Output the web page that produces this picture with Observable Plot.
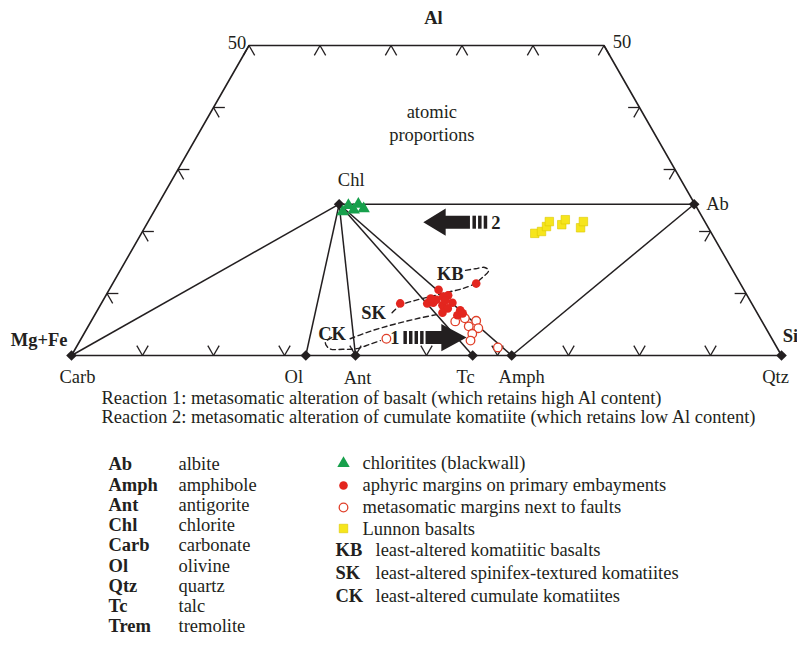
<!DOCTYPE html>
<html>
<head>
<meta charset="utf-8">
<script src="https://cdn.jsdelivr.net/npm/d3@7"></script>
<script src="https://cdn.jsdelivr.net/npm/@observablehq/plot@0.6"></script>
<style>
  body { margin: 0; background: #fff; }
  #chart svg { display: block; }
</style>
</head>
<body>
<div id="chart"></div>
<script>
// Compositions are atomic proportions in %, written as [Al, Si]; Mg+Fe is the remainder.

// Reference minerals
const mineralNames = ["Carb", "Ol", "Ant", "Tc", "Amph", "Qtz", "Chl", "Ab"];
const mineralAl    = [0, 0, 0, 0, 0, 0, 24.4, 24.4];
const mineralSi    = [0, 33, 40, 56.5, 62, 100, 25.5, 75.5];

// Tie lines between minerals
const tieLines = [["Carb", "Chl"], ["Ol", "Chl"], ["Ant", "Chl"], ["Chl", "Tc"], ["Chl", "Amph"], ["Chl", "Ab"], ["Ab", "Amph"]];

// Sample groups
const chloritites = [[23.2, 26.6], [24.2, 26.9], [23.5, 28.0], [24.4, 28.2], [23.7, 29.3]];
const aphyricMargins = [
  [11.6, 51.2], [10.6, 46.4], [8.4, 42.1], [8.4, 45.9], [8.5, 46.7], [9.0, 46.9],
  [9.5, 47.6], [9.7, 48.2], [8.5, 49.4], [8.1, 48.2], [7.6, 49.2], [6.9, 48.8],
  [7.3, 51.1], [6.5, 51.1], [6.8, 51.7], [9.2, 46.0], [8.9, 48.2]
];
const faultMargins = [
  [2.7, 43.0], [5.5, 51.3], [6.0, 52.4], [5.6, 54.2], [4.7, 53.6], [4.4, 55.1],
  [3.5, 54.7], [2.4, 55.0], [1.3, 59.4]
];
const lunnonBasalts = [
  [19.7, 55.4], [20.0, 56.2], [20.8, 56.5], [21.6, 56.5], [21.1, 58.5],
  [21.9, 58.6], [20.6, 61.4], [21.6, 61.3]
];

// Outlines of the least-altered komatiite / basalt fields
const fieldKBSK = [
  [6.9, 41.7], [8.1, 42.3], [8.9, 44.0], [9.5, 45.8], [10.2, 47.9], [10.8, 49.7],
  [11.6, 51.0], [12.6, 51.6], [13.7, 51.9], [14.2, 51.1], [14.0, 49.9], [13.7, 48.5]
];
const fieldCKupper = [[2.7, 37.9], [3.7, 39.7], [4.5, 41.5], [5.3, 43.7], [6.0, 45.9], [6.6, 48.1]];
const fieldCKlower = [[2.9, 35.2], [2.1, 34.7], [1.1, 35.8], [1.0, 37.7], [1.1, 39.6], [1.8, 41.1], [2.4, 42.3]];
const fieldLabels = ["KB", "SK", "CK"];
const fieldLabelAl = [13.1, 6.9, 3.4];
const fieldLabelSi = [46.8, 39.1, 35.0];

// Reaction arrows: tail and tip compositions
const reactionLabels = ["1", "2"];
const reactionTail = [[2.9, 45.3], [21.5, 47.8]];
const reactionTip  = [[2.9, 54.2], [21.5, 38.8]];

// Legend and captions
const reactions = [
  "Reaction 1: metasomatic alteration of basalt (which retains high Al content)",
  "Reaction 2: metasomatic alteration of cumulate komatiite (which retains low Al content)"
];
const abbreviations = ["Ab", "Amph", "Ant", "Chl", "Carb", "Ol", "Qtz", "Tc", "Trem"];
const fullNames = ["albite", "amphibole", "antigorite", "chlorite", "carbonate", "olivine", "quartz", "talc", "tremolite"];
const sampleLegend = ["chloritites (blackwall)", "aphyric margins on primary embayments", "metasomatic margins next to faults", "Lunnon basalts"];
const fieldNames = ["least-altered komatiitic basalts", "least-altered spinifex-textured komatiites", "least-altered cumulate komatiites"];

// ---------------------------------------------------------------------------
const ink = "#231f20";
const font = "'Liberation Serif', 'Times New Roman', serif";
const fs = 18.5;

// ternary [Al, Si] -> plane (x along the base, y = Al)
const T = ([al, si]) => ({x: si + al / 2, y: al});

const minerals = mineralNames.map((n, i) => ({name: n, ...T([mineralAl[i], mineralSi[i]])}));
const byName = Object.fromEntries(minerals.map(m => [m.name, m]));

// truncated triangle frame (cut at 50 % Al)
const frame = [[0, 0], [50, 0], [50, 50], [0, 100], [0, 0]].map(T);

// chevron ticks every 10 %, arms along the two grid directions
const L = 1.6;
const tickSegs = [];
const addTick = (p, a, b) => { tickSegs.push({a: T(p), b: T(a)}, {a: T(p), b: T(b)}); };
d3.range(10, 100, 10).forEach(si => addTick([0, si], [L, si], [L, si - L]));
d3.range(0, 60, 10).forEach(si => addTick([50, si], [50 - L, si], [50 - L, si + L]));
d3.range(10, 50, 10).forEach(al => addTick([al, 0], [al, L], [al - L, L]));
d3.range(10, 50, 10).forEach(al => addTick([al, 100 - al], [al, 100 - al - L], [al - L, 100 - al]));

const ties = tieLines.map(([a, b]) => ({a: byName[a], b: byName[b]}));

const fields = [
  ...fieldKBSK.map(p => ({id: "kbsk", ...T(p)})),
  ...fieldCKupper.map(p => ({id: "cku", ...T(p)})),
  ...fieldCKlower.map(p => ({id: "ckl", ...T(p)}))
];

// block arrows: striped tail, solid body, triangular head
const bodyHalf = 1.05, headHalf = 2.2;
const arrowStyle = [
  {stripes: 4, bodyStart: 0.35, headStart: 0.60},
  {stripes: 3, bodyStart: 0.27, headStart: 0.65}
];
const arrowPolys = [];
reactionLabels.forEach((lab, i) => {
  const t0 = T(reactionTail[i]), t1 = T(reactionTip[i]);
  const y = t0.y, len = t1.x - t0.x;
  const at = f => t0.x + f * len;
  const st = arrowStyle[i];
  for (let k = 0; k < st.stripes; k++) {
    const a = at(k * 0.088), b = at(k * 0.088 + 0.055);
    [[a, y - bodyHalf], [b, y - bodyHalf], [b, y + bodyHalf], [a, y + bodyHalf]]
      .forEach(([x, yy]) => arrowPolys.push({id: `${lab}s${k}`, x, y: yy}));
  }
  const b0 = at(st.bodyStart), h0 = at(st.headStart);
  [[b0, y - bodyHalf], [h0, y - bodyHalf], [h0, y - headHalf], [t1.x, y],
   [h0, y + headHalf], [h0, y + bodyHalf], [b0, y + bodyHalf]]
    .forEach(([x, yy]) => arrowPolys.push({id: `${lab}b`, x, y: yy}));
});
// reaction number sits just behind each arrow's tail
const arrowLabelMarks = reactionLabels.map((lab, i) => {
  const t0 = T(reactionTail[i]), t1 = T(reactionTip[i]);
  const back = t1.x > t0.x ? -1 : 1;
  return Plot.text([t0], {x: "x", y: "y", text: () => lab, dx: back * 4, dy: 1,
    textAnchor: back < 0 ? "end" : "start", fontSize: fs, fontWeight: "bold", fill: ink});
});

// label placement around minerals
const labelOffset = {
  Carb: [6, 22, "middle"], Ol: [-12, 22, "middle"], Ant: [2, 23, "middle"], Tc: [-7, 22, "middle"],
  Amph: [10, 22, "middle"], Qtz: [-6, 22, "middle"], Chl: [12, -24, "middle"], Ab: [12, 0, "start"]
};
const mineralLabelMarks = minerals.map(m => {
  const [dx, dy, anchor] = labelOffset[m.name];
  return Plot.text([m], {x: "x", y: "y", text: "name", dx, dy, textAnchor: anchor, fontSize: fs, fill: ink});
});

const P = (pts) => pts.map(T);

// legend rows, positioned in the space under the diagram
const legendMarks = [];
const rowText = (txt, dx, dy, bold) => Plot.text([txt], {
  text: d => d, frameAnchor: "top-left", dx, dy, textAnchor: "start", lineAnchor: "middle",
  fontSize: fs, fontWeight: bold ? "bold" : "normal", fill: ink
});
reactions.forEach((r, i) => legendMarks.push(rowText(r, 101, 398 + i * 19, false)));
abbreviations.forEach((a, i) => {
  legendMarks.push(rowText(a, 108, 464 + i * 20.25, true));
  legendMarks.push(rowText(fullNames[i], 178, 464 + i * 20.25, false));
});
sampleLegend.forEach((s, i) => legendMarks.push(rowText(s, 362, 463 + i * 21.8, false)));
fieldLabels.forEach((c, i) => {
  legendMarks.push(rowText(c, 335, 550 + i * 23, true));
  legendMarks.push(rowText(fieldNames[i], 375, 550 + i * 23, false));
});
const legendSym = (dy, opts) => Plot.dot([0], {frameAnchor: "top-left", dx: 343, dy, ...opts});
legendMarks.push(
  legendSym(463, {symbol: "triangle", r: 4.6, fill: "#17a04c"}),
  legendSym(485, {r: 4.3, fill: "#e3261f"}),
  legendSym(507, {r: 4.3, fill: "white", stroke: "#e0402a", strokeWidth: 1.3}),
  legendSym(528, {symbol: "square", r: 4.8, fill: "#f6e51c", stroke: "#dcc800", strokeWidth: 0.6})
);

const chart = Plot.plot({
  width: 797,
  height: 645,
  margin: 0,
  x: {domain: [0, 100], range: [71, 781], axis: null},
  y: {domain: [0, 50], range: [355, 45], axis: null},
  style: {fontFamily: font, background: "white", color: ink},
  marks: [
    Plot.line(frame, {x: "x", y: "y", stroke: ink, strokeWidth: 1.6}),
    Plot.link(tickSegs, {x1: d => d.a.x, y1: d => d.a.y, x2: d => d.b.x, y2: d => d.b.y, stroke: ink, strokeWidth: 1.3}),
    Plot.link(ties, {x1: d => d.a.x, y1: d => d.a.y, x2: d => d.b.x, y2: d => d.b.y, stroke: ink, strokeWidth: 1.5}),
    Plot.line(fields, {x: "x", y: "y", z: "id", curve: "catmull-rom", stroke: ink, strokeWidth: 1.4, strokeDasharray: "5,3.5"}),
    Plot.line(arrowPolys, {x: "x", y: "y", z: "id", fill: ink, stroke: "none"}),
    ...arrowLabelMarks,
    Plot.dot(P(faultMargins), {x: "x", y: "y", r: 4.3, fill: "white", stroke: "#e0402a", strokeWidth: 1.3}),
    Plot.dot(P(aphyricMargins), {x: "x", y: "y", r: 4.3, fill: "#e3261f"}),
    Plot.dot(P(lunnonBasalts), {x: "x", y: "y", symbol: "square", r: 4.8, fill: "#f6e51c", stroke: "#dcc800", strokeWidth: 0.6}),
    Plot.dot(minerals, {x: "x", y: "y", symbol: "diamond2", r: 4.8, fill: ink}),
    Plot.dot(P(chloritites), {x: "x", y: "y", symbol: "triangle", r: 4.6, fill: "#17a04c"}),
    ...mineralLabelMarks,
    Plot.text(fieldLabels.map((f, i) => ({f, ...T([fieldLabelAl[i], fieldLabelSi[i]])})),
      {x: "x", y: "y", text: "f", fontSize: fs, fontWeight: "bold", fill: ink}),
    // apex labels and scale values
    Plot.text([T([50, 25])], {x: "x", y: "y", text: () => "Al", dx: 7, dy: -27, fontSize: fs, fontWeight: "bold", fill: ink}),
    Plot.text([byName.Carb], {x: "x", y: "y", text: () => "Mg+Fe", dx: -4, dy: -15, textAnchor: "end", fontSize: fs, fontWeight: "bold", fill: ink}),
    Plot.text([byName.Qtz], {x: "x", y: "y", text: () => "Si", dx: 9, dy: -19, fontSize: fs, fontWeight: "bold", fill: ink}),
    Plot.text([T([50, 0])], {x: "x", y: "y", text: () => "50", dx: -12, dy: -2, fontSize: fs, fill: ink}),
    Plot.text([T([50, 50])], {x: "x", y: "y", text: () => "50", dx: 18, dy: -3, fontSize: fs, fill: ink}),
    Plot.text([T([37.7, 31.9])], {x: "x", y: "y", text: () => "atomic\nproportions", lineHeight: 1.25, fontSize: fs, fill: ink}),
    ...legendMarks
  ]
});

document.getElementById("chart").append(chart);
</script>
</body>
</html>
